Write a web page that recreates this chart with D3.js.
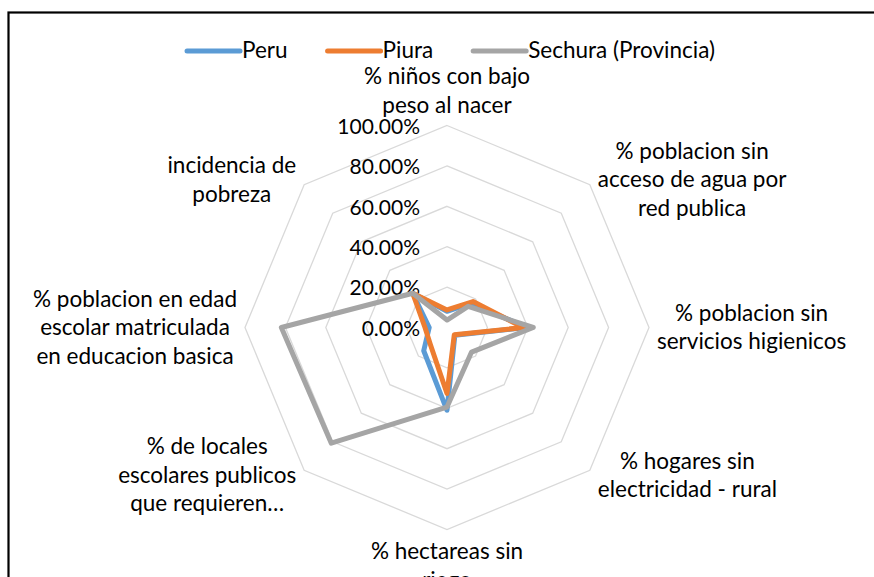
<!DOCTYPE html>
<html>
<head>
  <script src="https://d3js.org/d3.v7.js"></script>
  <style>
    html, body {
      margin: 0px;
      padding: 0px;
      background: #fff;
    }
    svg text {
      font-family: Lato, "Open Sans", sans-serif;
      fill: #000;
    }
  </style>
</head>
<body>
  <div id="chart"></div>
  <script>
    /*
    DATA
    */
    const categories = [
      ["% niños con bajo", "peso al nacer"],
      ["% poblacion sin", "acceso de agua por", "red publica"],
      ["% poblacion sin", "servicios higienicos"],
      ["% hogares sin", "electricidad - rural"],
      ["% hectareas sin", "riego"],
      ["% de locales", "escolares publicos", "que requieren…"],
      ["% poblacion en edad", "escolar matriculada", "en educacion basica"],
      ["incidencia de", "pobreza"]
    ];
    const seriesNames = ["Peru", "Piura", "Sechura (Provincia)"];
    const peru    = [0.080, 0.170, 0.395, 0.055, 0.410, 0.163, 0.088, 0.240];
    const piura   = [0.087, 0.182, 0.378, 0.051, 0.327, 0.117, 0.109, 0.240];
    const sechura = [0.037, 0.148, 0.427, 0.172, 0.394, 0.810, 0.820, 0.240];
    const ticks = [0, 0.2, 0.4, 0.6, 0.8, 1.0];
    const colors = ["#5B9BD5", "#ED7D31", "#A5A5A5"];

    /*
    CANVAS
    */
    const width = 874, height = 577;
    const cx = 447, cy = 327.5, R = 202;
    const fontSize = 22.5, tickSize = 21, lineH = 28.5;

    const svg = d3.select("#chart")
      .append("svg")
      .attr("width", width)
      .attr("height", height);

    // outer frame (continues past the bottom / right edge)
    svg.append("rect")
      .attr("x", 8.5).attr("y", 12.5)
      .attr("width", 1000).attr("height", 1000)
      .attr("fill", "none")
      .attr("stroke", "#000")
      .attr("stroke-width", 2.2);

    const rScale = d3.scaleLinear().domain([0, 1]).range([0, R]);
    const angle = d3.scaleLinear().domain([0, categories.length]).range([0, 2 * Math.PI]);

    const radial = d3.lineRadial()
      .angle((d, i) => angle(i))
      .radius(d => rScale(d))
      .curve(d3.curveLinearClosed);

    const g = svg.append("g").attr("transform", `translate(${cx},${cy})`);

    // grid rings
    g.selectAll(".ring")
      .data(ticks.filter(t => t > 0))
      .enter()
      .append("path")
        .attr("d", t => radial(categories.map(() => t)))
        .attr("fill", "none")
        .attr("stroke", "#D9D9D9")
        .attr("stroke-width", 1.3);

    // tick labels
    g.selectAll(".tick")
      .data(ticks)
      .enter()
      .append("text")
        .attr("x", -27)
        .attr("y", t => -rScale(t) + 3)
        .attr("text-anchor", "end")
        .attr("dominant-baseline", "middle")
        .style("font-size", tickSize + "px")
        .text(t => d3.format(".2%")(t));

    // series
    const allSeries = [peru, piura, sechura];
    g.selectAll(".series")
      .data(allSeries)
      .enter()
      .append("path")
        .attr("d", d => radial(d))
        .attr("fill", "none")
        .attr("stroke", (d, i) => colors[i])
        .attr("stroke-width", 5)
        .attr("stroke-linejoin", "round");

    // category labels
    const gap = 8;
    categories.forEach(function(lines, i) {
      const a = angle(i);
      const s = Math.sin(a), c = Math.cos(a);
      const vx = R * s, vy = -R * c;
      const block = g.append("g");
      const texts = lines.map(ln => block.append("text")
        .attr("text-anchor", "middle")
        .style("font-size", fontSize + "px")
        .text(ln));
      const bw = d3.max(texts, t => t.node().getComputedTextLength());
      const bh = lines.length * lineH;
      let bx, by;
      if (Math.abs(s) < 0.01) {
        bx = 0;
        by = c > 0 ? vy - 6 - bh / 2 : vy + gap + bh / 2;
      } else {
        bx = s > 0 ? vx + gap + bw / 2 : vx - gap - bw / 2;
        by = vy - c * 7;
      }
      texts.forEach((t, k) => t
        .attr("x", bx)
        .attr("y", by - bh / 2 + lineH * (k + 0.5) + 2)
        .attr("dominant-baseline", "middle"));
    });

    // legend
    const legend = svg.append("g");
    let lx = 0;
    seriesNames.forEach(function(name, i) {
      const it = legend.append("g").attr("transform", `translate(${lx},51)`);
      it.append("line")
        .attr("x1", 2).attr("x2", 55)
        .attr("stroke", colors[i])
        .attr("stroke-width", 5)
        .attr("stroke-linecap", "round");
      const t = it.append("text")
        .attr("x", 57)
        .attr("y", 1)
        .attr("dominant-baseline", "middle")
        .style("font-size", fontSize + "px")
        .text(name);
      lx += 57 + t.node().getComputedTextLength() + 38;
    });
    const legendW = lx - 38;
    legend.attr("transform", `translate(${450 - legendW / 2},0)`);
  </script>
</body>
</html>
